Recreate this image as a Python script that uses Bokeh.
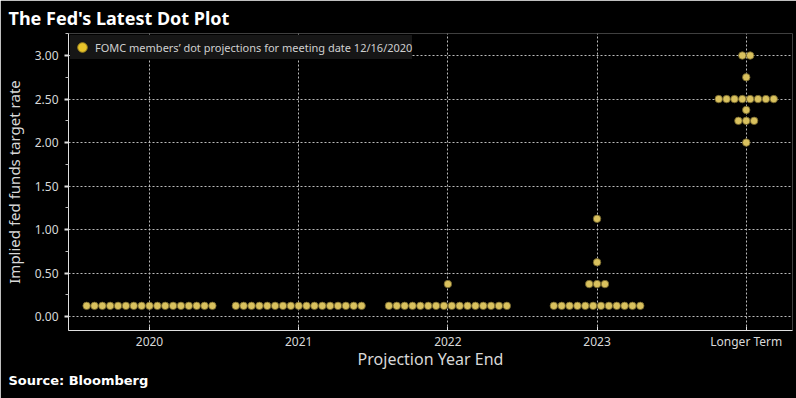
from bokeh.plotting import figure
from bokeh.models import (Legend, LegendItem, FixedTicker, NumeralTickFormatter,
                          ColumnDataSource, Range1d, Title)
from bokeh.embed import file_html
from bokeh.resources import INLINE

# ---- data ----
categories = ["2020", "2021", "2022", "2023", "Longer Term"]
rates_2020 = [0.125]
counts_2020 = [17]
rates_2021 = [0.125]
counts_2021 = [17]
rates_2022 = [0.125, 0.375]
counts_2022 = [16, 1]
rates_2023 = [0.125, 0.375, 0.625, 1.125]
counts_2023 = [12, 3, 1, 1]
rates_longer = [2.0, 2.25, 2.375, 2.5, 2.75, 3.0]
counts_longer = [1, 3, 1, 8, 1, 2]
y_ticks = [0.0, 0.5, 1.0, 1.5, 2.0, 2.5, 3.0]
y_minor_ticks = [0.25, 0.75, 1.25, 1.75, 2.25, 2.75, 3.25]

groups = [(rates_2020, counts_2020), (rates_2021, counts_2021), (rates_2022, counts_2022),
          (rates_2023, counts_2023), (rates_longer, counts_longer)]

# ---- dot-plot layout: spread equal values side by side ----
spacing = 0.0527
xs, ys = [], []
for i, (rates, counts) in enumerate(groups):
    for r, n in zip(rates, counts):
        for k in range(n):
            xs.append(i + (k - (n - 1) / 2) * spacing)
            ys.append(r)

W, H = 796, 398
p = figure(width=W, height=H, output_backend="svg", toolbar_location=None,
           x_range=Range1d(-0.543, 4.31), y_range=Range1d(-0.158, 3.253),
           min_border_left=68, min_border_right=4, min_border_top=33, min_border_bottom=68)
p.background_fill_color = "#000000"
p.border_fill_color = "#000000"
p.outline_line_color = None

# title
p.title.text = "The Fed's Latest Dot Plot"
p.title.align = "left"
p.title.offset = -60
p.title.standoff = 7
p.title.text_font = "Noto Sans"
p.title.text_font_style = "bold"
p.title.text_font_size = "18px"
p.title.text_color = "#ffffff"

# axes
p.xaxis.ticker = FixedTicker(ticks=list(range(len(categories))))
p.xaxis.major_label_overrides = {i: c for i, c in enumerate(categories)}
p.xaxis.axis_line_color = "#e0e0e0"
p.xaxis.major_tick_in = 4
p.xaxis.major_tick_out = 0
p.xaxis.major_tick_line_color = "#e0e0e0"
p.xaxis.minor_tick_line_color = None
p.xaxis.major_label_text_color = "#d8d8d8"
p.xaxis.major_label_text_font = "Noto Sans"
p.xaxis.major_label_text_font_size = "12px"
p.xaxis.major_label_standoff = 2
p.xaxis.axis_label = "Projection Year End"
p.xaxis.axis_label_text_font = "Noto Sans"
p.xaxis.axis_label_text_font_style = "normal"
p.xaxis.axis_label_text_font_size = "16px"
p.xaxis.axis_label_text_color = "#d8d8d8"
p.xaxis.axis_label_standoff = -5

p.yaxis.ticker = FixedTicker(ticks=y_ticks, minor_ticks=y_minor_ticks)
p.yaxis.formatter = NumeralTickFormatter(format="0.00")
p.yaxis.axis_line_color = "#e0e0e0"
p.yaxis.major_tick_line_color = "#e0e0e0"
p.yaxis.major_tick_out = 4
p.yaxis.major_tick_in = 0
p.yaxis.major_tick_line_width = 2
p.yaxis.minor_tick_line_color = "#bbbbbb"
p.yaxis.minor_tick_out = 3
p.yaxis.minor_tick_in = 0
p.yaxis.major_label_text_color = "#d8d8d8"
p.yaxis.major_label_text_font = "Noto Sans"
p.yaxis.major_label_text_font_size = "12px"
p.yaxis.major_label_standoff = 6
p.yaxis.axis_label = "Implied fed funds target rate"
p.yaxis.axis_label_text_font = "Noto Sans"
p.yaxis.axis_label_text_font_style = "normal"
p.yaxis.axis_label_text_font_size = "15px"
p.yaxis.axis_label_text_color = "#d8d8d8"
p.yaxis.axis_label_standoff = 8

# grids
p.xgrid.ticker = FixedTicker(ticks=list(range(len(categories))))
p.ygrid.ticker = FixedTicker(ticks=y_ticks)
for g in (p.xgrid, p.ygrid):
    g.grid_line_color = "#cfcfcf"
    g.grid_line_dash = "2 2"
    g.grid_line_width = 1
    g.grid_line_alpha = 0.9

# dots
src = ColumnDataSource(data=dict(x=xs, y=ys))
p.scatter("x", "y", source=src, size=7.5, fill_color="#d9c15e", line_color="#6f6129",
          line_width=0.8)

# legend-only glyph (larger dot, no visible point)
leg_r = p.scatter([float("nan")], [float("nan")], size=12, fill_color="#e8c42a",
                  line_color="#9c8420", line_width=1)
legend = Legend(items=[LegendItem(label="FOMC members\u2019 dot projections for meeting date 12/16/2020",
                                  renderers=[leg_r], index=0)],
                location="top_left")
legend.background_fill_color = "#161616"
legend.background_fill_alpha = 1
legend.border_line_color = None
legend.label_text_color = "#d0d0d0"
legend.label_text_font = "Noto Sans"
legend.label_text_font_size = "11px"
legend.margin = 2
legend.padding = 1
legend.spacing = 0
legend.glyph_width = 24
legend.glyph_height = 24
legend.label_standoff = 1
p.add_layout(legend)

# source note
src_title = Title(text="Source: Bloomberg", align="left", offset=-60, standoff=-3,
                  text_font="DejaVu Sans", text_font_style="bold", text_font_size="13px",
                  text_color="#ffffff")
p.add_layout(src_title, "below")

html = file_html(p, INLINE)
html = html.replace("<body>", '<body style="background-color:#000000;">', 1)
open("out.html", "w").write(html)
